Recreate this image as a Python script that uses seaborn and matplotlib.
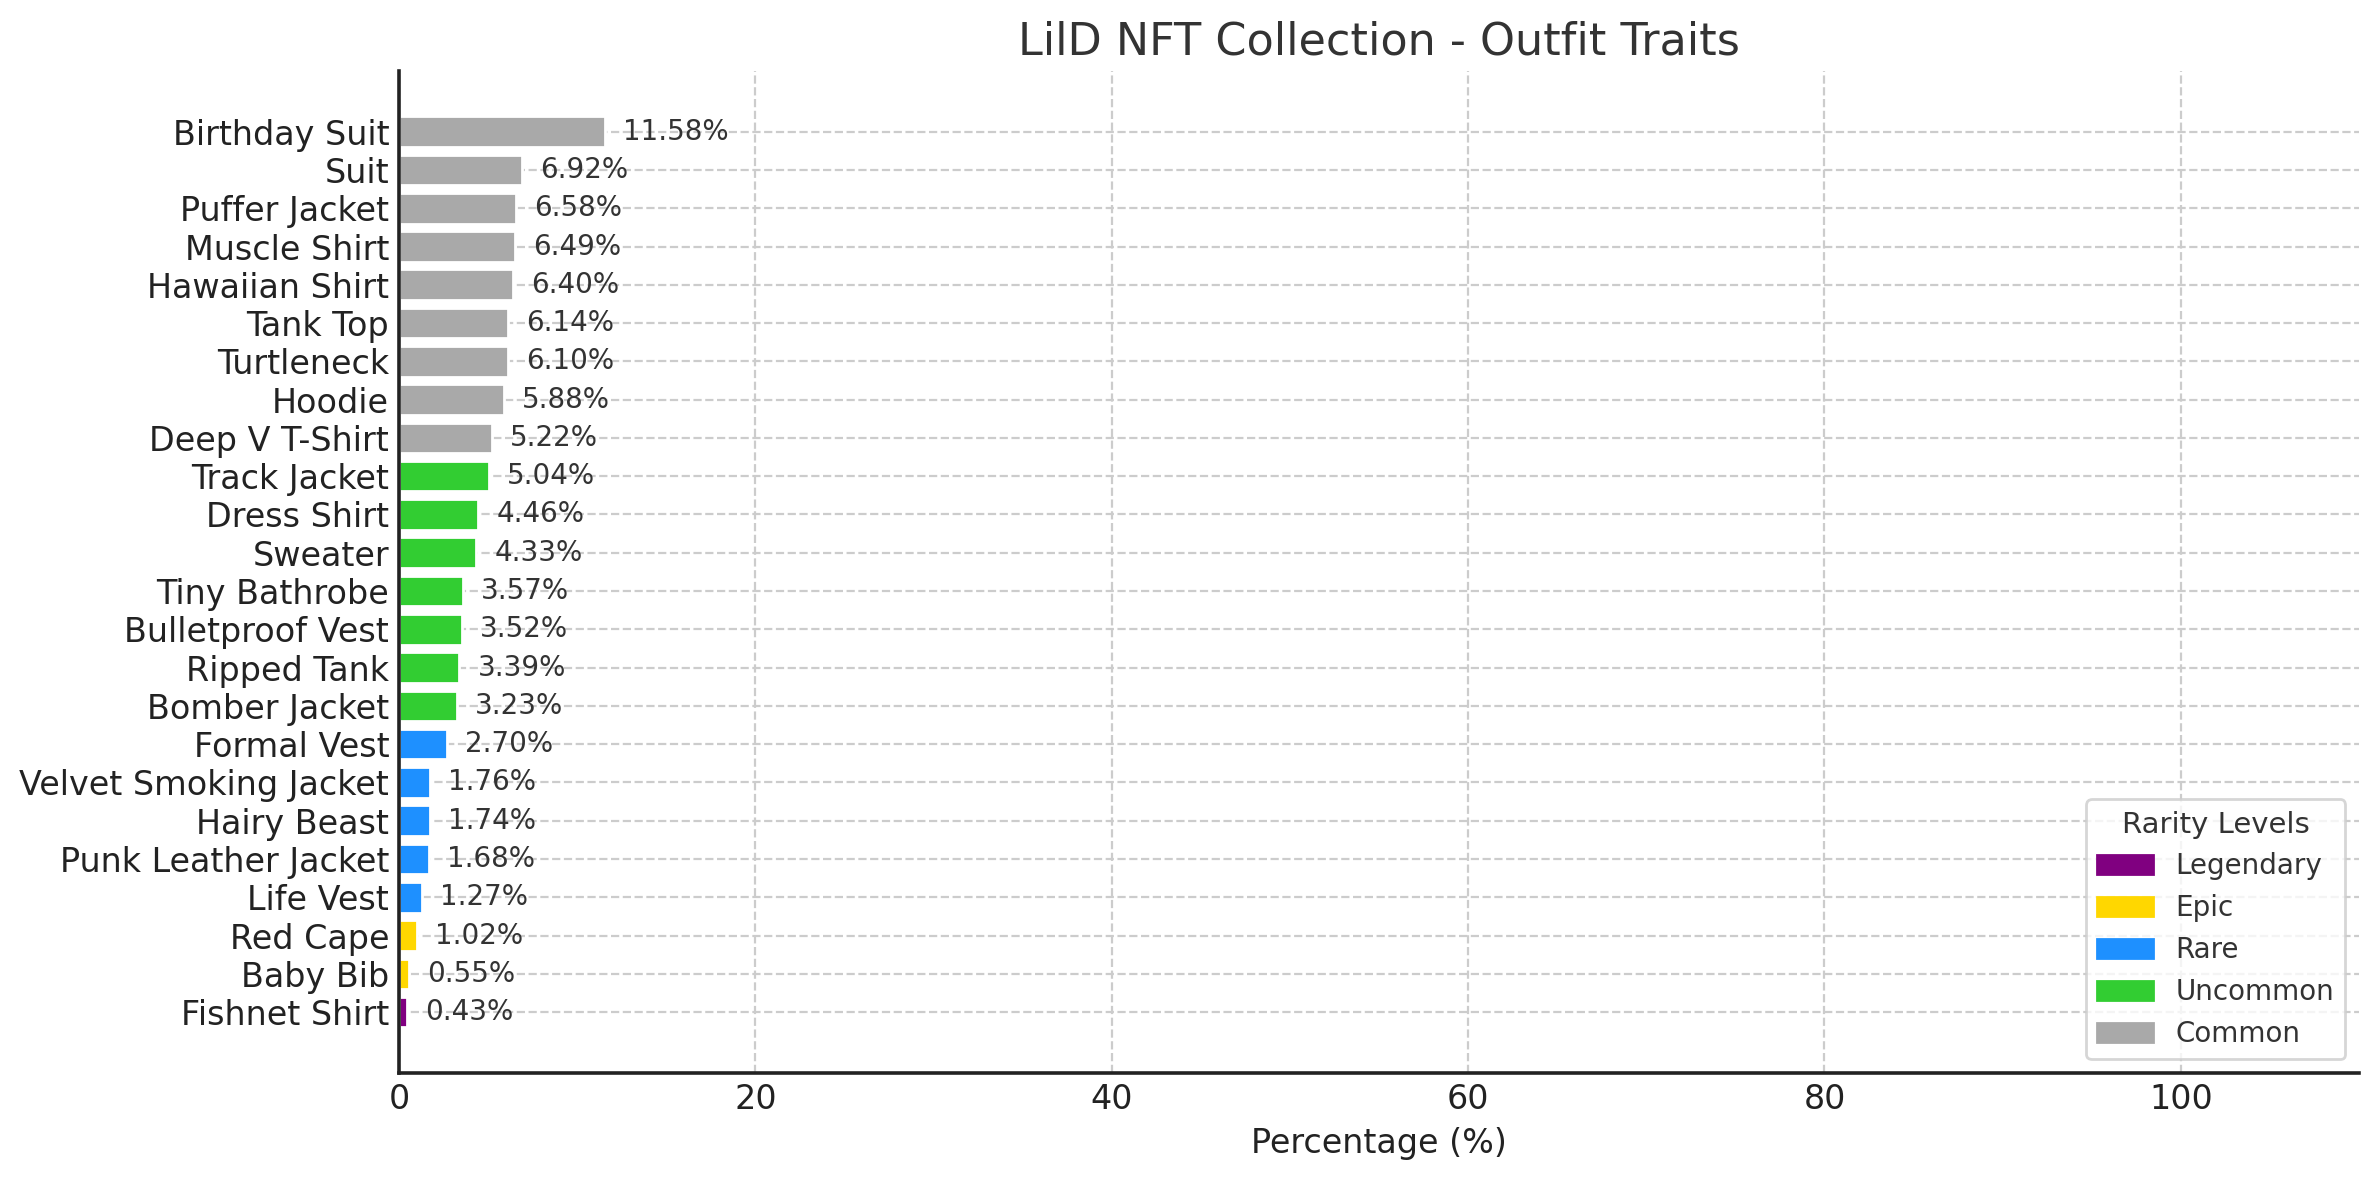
import numpy as np
import pandas as pd
import seaborn as sns
import matplotlib.pyplot as plt
from matplotlib.patches import Patch

# outfit trait data
outfits = ["Birthday Suit", "Suit", "Puffer Jacket", "Muscle Shirt", "Hawaiian Shirt",
           "Tank Top", "Turtleneck", "Hoodie", "Deep V T-Shirt", "Track Jacket",
           "Dress Shirt", "Sweater", "Tiny Bathrobe", "Bulletproof Vest", "Ripped Tank",
           "Bomber Jacket", "Formal Vest", "Velvet Smoking Jacket", "Hairy Beast",
           "Punk Leather Jacket", "Life Vest", "Red Cape", "Baby Bib", "Fishnet Shirt"]
percentages = [11.58, 6.92, 6.58, 6.49, 6.40, 6.14, 6.10, 5.88, 5.22, 5.04,
               4.46, 4.33, 3.57, 3.52, 3.39, 3.23, 2.70, 1.76, 1.74, 1.68,
               1.27, 1.02, 0.55, 0.43]
rarity = (["Common"] * 9 + ["Uncommon"] * 7 + ["Rare"] * 5 + ["Epic"] * 2 + ["Legendary"])

rarity_levels = ["Legendary", "Epic", "Rare", "Uncommon", "Common"]
rarity_colors = {"Legendary": "purple", "Epic": "gold", "Rare": "dodgerblue",
                 "Uncommon": "limegreen", "Common": "darkgray"}

df = pd.DataFrame({"Outfit": outfits, "Percentage": percentages, "Rarity": rarity})

sns.set_style("white")
plt.rcParams['font.family'] = ['DejaVu Sans']

fig, ax = plt.subplots(figsize=(2379 / 200, 1180 / 200), dpi=200)
fig.subplots_adjust(left=0.1677, right=0.9916, top=0.94, bottom=0.0907)

sns.barplot(data=df, y="Outfit", x="Percentage", hue="Rarity", palette=rarity_colors,
            dodge=False, width=0.8, orient="h", legend=False, ax=ax, saturation=1)

for cont in ax.containers:
    ax.bar_label(cont, labels=[f"{w:.2f}%" for w in cont.datavalues],
                 padding=6.5, fontsize=10, color="#333333")

ax.set_xlim(0, 110)
ax.set_ylim(len(outfits) - 1 + 1.59, -1.59)
ax.set_xticks([0, 20, 40, 60, 80, 100])

ax.set_title("LilD NFT Collection - Outfit Traits", fontsize=16, color="#333333")
ax.set_xlabel("Percentage (%)", fontsize=12, color="#222222")
ax.set_ylabel("")
ax.tick_params(axis="both", direction="in", length=5, width=1, colors="#222222", labelsize=12)

ax.grid(True, linestyle="--", color="#cccccc", linewidth=0.8)
ax.set_axisbelow(True)
sns.despine(ax=ax)
for side in ["left", "bottom"]:
    ax.spines[side].set_color("#222222")
    ax.spines[side].set_linewidth(1.3)

handles = [Patch(color=rarity_colors[r], label=r) for r in rarity_levels]
leg = ax.legend(handles=handles, title="Rarity Levels", loc="lower right",
                fontsize=10, title_fontsize=10.5, frameon=True)
for t in leg.get_texts():
    t.set_color("#333333")
leg.get_title().set_color("#333333")
leg.get_frame().set_edgecolor("#cccccc")

fig.savefig("out.png", dpi=200)
